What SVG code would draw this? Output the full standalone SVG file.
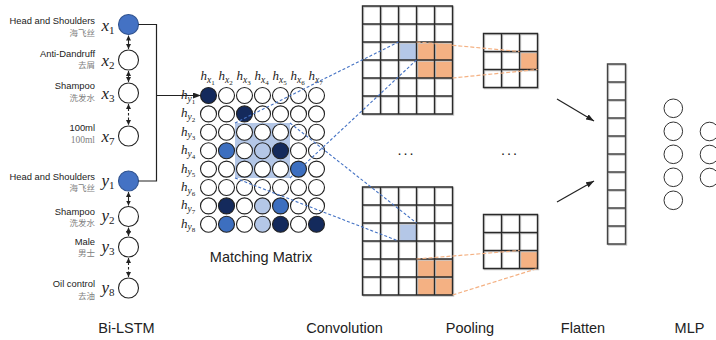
<svg xmlns="http://www.w3.org/2000/svg" xmlns:xlink="http://www.w3.org/1999/xlink" width="716" height="340" viewBox="0 0 716 340">
<style>
.en{font-family:"Liberation Sans",Arial,sans-serif;font-size:9.4px;fill:#222;text-anchor:end}
.zh{font-family:"Noto Sans CJK SC",sans-serif;font-size:8.5px;fill:#808080;text-anchor:end}
.zs{font-family:"Liberation Serif",serif;font-size:9.5px;fill:#808080;text-anchor:end}
.m{font-family:"Liberation Serif",serif;font-style:italic;font-size:17px;fill:#222}
.ms{font-style:normal;font-size:11px}
.mh{font-family:"Liberation Serif",serif;font-style:italic;font-size:13px;fill:#222}
.s1{font-size:9.5px}
.s2{font-size:7px;font-style:normal}
.lb{font-family:"Liberation Sans",Arial,sans-serif;font-size:14.5px;fill:#222;text-anchor:middle}
.nd{fill:#fff;stroke:#222;stroke-width:1.1}
.bl{fill:#4472c4;stroke:#2f528f;stroke-width:1.1}
.c{fill:#fff;stroke:#222;stroke-width:1.1}
.nv{fill:#142a5c}
.md{fill:#3d6fbf}
.lt{fill:#b4c7e7}
.gl{fill:none;stroke:#2a2a2a;stroke-width:1.4}
.gs{fill:none;stroke:#c8c8c8;stroke-width:1.4}
.or{fill:#f4b183}
.pb{fill:#b4c7e7}
.ln{fill:none;stroke:#222;stroke-width:1.2}
.ar{fill:none;stroke:#222;stroke-width:1.1}
.bd{fill:none;stroke:#4472c4;stroke-width:1.1;stroke-dasharray:3 2}
.od{fill:none;stroke:#f4b183;stroke-width:1.2;stroke-dasharray:4 2}
.mlp{fill:#fff;stroke:#333;stroke-width:1}
</style>
<defs>
<marker id="ah" viewBox="0 0 6 6" refX="6" refY="3" markerWidth="5" markerHeight="5" markerUnits="userSpaceOnUse" orient="auto-start-reverse"><path d="M0,0 L6,3 L0,6 z" fill="#222"/></marker>
<marker id="ab" viewBox="0 0 8 6" refX="8" refY="3" markerWidth="8" markerHeight="6" markerUnits="userSpaceOnUse" orient="auto"><path d="M0,0 L8,3 L0,6 z" fill="#222"/></marker>
<path id="g56" d="M0,0H90V108H0Z M18,0V108 M36,0V108 M54,0V108 M72,0V108 M0,18H90 M0,36H90 M0,54H90 M0,72H90 M0,90H90"/>
<path id="g33" d="M0,0H54V54H0Z M18,0V54 M36,0V54 M0,18H54 M0,36H54"/>
<path id="g110" d="M0,0H18V180H0Z M0,18H18 M0,36H18 M0,54H18 M0,72H18 M0,90H18 M0,108H18 M0,126H18 M0,144H18 M0,162H18"/>
</defs>

<g id="bilstm">
<g id="node-x1"><circle class="bl" cx="128.5" cy="24.5" r="10"/><text class="en" x="95" y="24">Head and Shoulders</text><text class="zh" x="95" y="35.5">海飞丝</text><text class="m" x="101.5" y="30.5">x<tspan class="ms" dy="3">1</tspan></text></g>
<g id="node-x2"><circle class="nd" cx="128.5" cy="60" r="10"/><text class="en" x="95" y="56.5">Anti-Dandruff</text><text class="zh" x="95" y="68">去屑</text><text class="m" x="101.5" y="65.5">x<tspan class="ms" dy="3">2</tspan></text></g>
<g id="node-x3"><circle class="nd" cx="128.5" cy="93" r="10"/><text class="en" x="95" y="88.5">Shampoo</text><text class="zh" x="95" y="100.5">洗发水</text><text class="m" x="101.5" y="98.5">x<tspan class="ms" dy="3">3</tspan></text></g>
<g id="node-x7"><circle class="nd" cx="128.5" cy="136" r="10"/><text class="en" x="95" y="130.5">100ml</text><text class="zs" x="95" y="142.5">100ml</text><text class="m" x="101.5" y="142">x<tspan class="ms" dy="3">7</tspan></text></g>
<g id="node-y1"><circle class="bl" cx="128.5" cy="181" r="10"/><text class="en" x="95" y="179.5">Head and Shoulders</text><text class="zh" x="95" y="191">海飞丝</text><text class="m" x="101.5" y="185.5">y<tspan class="ms" dy="3">1</tspan></text></g>
<g id="node-y2"><circle class="nd" cx="128.5" cy="216.5" r="10"/><text class="en" x="95" y="214.5">Shampoo</text><text class="zh" x="95" y="226">洗发水</text><text class="m" x="101.5" y="221">y<tspan class="ms" dy="3">2</tspan></text></g>
<g id="node-y3"><circle class="nd" cx="128.5" cy="247" r="10"/><text class="en" x="95" y="244.5">Male</text><text class="zh" x="95" y="256">男士</text><text class="m" x="101.5" y="251.5">y<tspan class="ms" dy="3">3</tspan></text></g>
<g id="node-y8"><circle class="nd" cx="128.5" cy="288" r="10"/><text class="en" x="95" y="287">Oil control</text><text class="zh" x="95" y="298.5">去油</text><text class="m" x="101.5" y="292.5">y<tspan class="ms" dy="3">8</tspan></text></g>
<text class="lb" x="126.5" y="332.5">Bi-LSTM</text>
</g>

<g id="matching-matrix">
<rect x="235" y="123" width="55" height="55" fill="#b4c7e7"/>
<g id="mm-headers">
<text class="mh" x="200.5" y="80">h<tspan class="s1" dy="2.5">x</tspan><tspan class="s2" dy="2">1</tspan></text>
<text class="mh" x="218.5" y="80">h<tspan class="s1" dy="2.5">x</tspan><tspan class="s2" dy="2">2</tspan></text>
<text class="mh" x="236.5" y="80">h<tspan class="s1" dy="2.5">x</tspan><tspan class="s2" dy="2">3</tspan></text>
<text class="mh" x="254.5" y="80">h<tspan class="s1" dy="2.5">x</tspan><tspan class="s2" dy="2">4</tspan></text>
<text class="mh" x="272.5" y="80">h<tspan class="s1" dy="2.5">x</tspan><tspan class="s2" dy="2">5</tspan></text>
<text class="mh" x="290.5" y="80">h<tspan class="s1" dy="2.5">x</tspan><tspan class="s2" dy="2">6</tspan></text>
<text class="mh" x="308.5" y="80">h<tspan class="s1" dy="2.5">x</tspan><tspan class="s2" dy="2">7</tspan></text>
<text class="mh" x="181" y="99">h<tspan class="s1" dy="2.5">y</tspan><tspan class="s2" dy="2">1</tspan></text>
<text class="mh" x="181" y="117.4">h<tspan class="s1" dy="2.5">y</tspan><tspan class="s2" dy="2">2</tspan></text>
<text class="mh" x="181" y="135.8">h<tspan class="s1" dy="2.5">y</tspan><tspan class="s2" dy="2">3</tspan></text>
<text class="mh" x="181" y="154.2">h<tspan class="s1" dy="2.5">y</tspan><tspan class="s2" dy="2">4</tspan></text>
<text class="mh" x="181" y="172.6">h<tspan class="s1" dy="2.5">y</tspan><tspan class="s2" dy="2">5</tspan></text>
<text class="mh" x="181" y="191">h<tspan class="s1" dy="2.5">y</tspan><tspan class="s2" dy="2">6</tspan></text>
<text class="mh" x="181" y="209.4">h<tspan class="s1" dy="2.5">y</tspan><tspan class="s2" dy="2">7</tspan></text>
<text class="mh" x="181" y="227.8">h<tspan class="s1" dy="2.5">y</tspan><tspan class="s2" dy="2">8</tspan></text>
</g>
<g id="mm-cells">
<circle class="c nv" cx="208.5" cy="95.5" r="8"/><circle class="c" cx="226.5" cy="95.5" r="8"/><circle class="c" cx="244.5" cy="95.5" r="8"/><circle class="c" cx="262.5" cy="95.5" r="8"/><circle class="c" cx="280.5" cy="95.5" r="8"/><circle class="c" cx="298.5" cy="95.5" r="8"/><circle class="c" cx="316.5" cy="95.5" r="8"/>
<circle class="c" cx="208.5" cy="113.9" r="8"/><circle class="c" cx="226.5" cy="113.9" r="8"/><circle class="c nv" cx="244.5" cy="113.9" r="8"/><circle class="c" cx="262.5" cy="113.9" r="8"/><circle class="c" cx="280.5" cy="113.9" r="8"/><circle class="c" cx="298.5" cy="113.9" r="8"/><circle class="c" cx="316.5" cy="113.9" r="8"/>
<circle class="c" cx="208.5" cy="132.3" r="8"/><circle class="c" cx="226.5" cy="132.3" r="8"/><circle class="c" cx="244.5" cy="132.3" r="8"/><circle class="c" cx="262.5" cy="132.3" r="8"/><circle class="c" cx="280.5" cy="132.3" r="8"/><circle class="c" cx="298.5" cy="132.3" r="8"/><circle class="c" cx="316.5" cy="132.3" r="8"/>
<circle class="c" cx="208.5" cy="150.7" r="8"/><circle class="c md" cx="226.5" cy="150.7" r="8"/><circle class="c" cx="244.5" cy="150.7" r="8"/><circle class="c lt" cx="262.5" cy="150.7" r="8"/><circle class="c nv" cx="280.5" cy="150.7" r="8"/><circle class="c" cx="298.5" cy="150.7" r="8"/><circle class="c" cx="316.5" cy="150.7" r="8"/>
<circle class="c" cx="208.5" cy="169.1" r="8"/><circle class="c" cx="226.5" cy="169.1" r="8"/><circle class="c" cx="244.5" cy="169.1" r="8"/><circle class="c" cx="262.5" cy="169.1" r="8"/><circle class="c" cx="280.5" cy="169.1" r="8"/><circle class="c md" cx="298.5" cy="169.1" r="8"/><circle class="c" cx="316.5" cy="169.1" r="8"/>
<circle class="c" cx="208.5" cy="187.5" r="8"/><circle class="c" cx="226.5" cy="187.5" r="8"/><circle class="c" cx="244.5" cy="187.5" r="8"/><circle class="c" cx="262.5" cy="187.5" r="8"/><circle class="c" cx="280.5" cy="187.5" r="8"/><circle class="c" cx="298.5" cy="187.5" r="8"/><circle class="c" cx="316.5" cy="187.5" r="8"/>
<circle class="c" cx="208.5" cy="205.9" r="8"/><circle class="c nv" cx="226.5" cy="205.9" r="8"/><circle class="c" cx="244.5" cy="205.9" r="8"/><circle class="c lt" cx="262.5" cy="205.9" r="8"/><circle class="c md" cx="280.5" cy="205.9" r="8"/><circle class="c" cx="298.5" cy="205.9" r="8"/><circle class="c" cx="316.5" cy="205.9" r="8"/>
<circle class="c" cx="208.5" cy="224.3" r="8"/><circle class="c md" cx="226.5" cy="224.3" r="8"/><circle class="c" cx="244.5" cy="224.3" r="8"/><circle class="c lt" cx="262.5" cy="224.3" r="8"/><circle class="c nv" cx="280.5" cy="224.3" r="8"/><circle class="c" cx="298.5" cy="224.3" r="8"/><circle class="c nv" cx="316.5" cy="224.3" r="8"/>
</g>
<text class="lb" x="261" y="262">Matching Matrix</text>
</g>

<g id="convolution">
<g id="conv-top">
<rect class="pb" x="398.5" y="42" width="18" height="18"/>
<rect class="or" x="416.5" y="42" width="36" height="36"/>
<use xlink:href="#g56" href="#g56" class="gs" x="363.5" y="7"/>
<use xlink:href="#g56" href="#g56" class="gl" x="362.5" y="6"/>
</g>
<g id="conv-bottom">
<rect class="pb" x="398.5" y="223" width="18" height="18"/>
<rect class="or" x="416.5" y="259" width="36" height="36"/>
<use xlink:href="#g56" href="#g56" class="gs" x="363.5" y="188"/>
<use xlink:href="#g56" href="#g56" class="gl" x="362.5" y="187"/>
</g>
<text class="lb" x="406.5" y="155" style="letter-spacing:2px">...</text>
<text class="lb" x="344.5" y="332.5">Convolution</text>
</g>

<g id="pooling">
<g id="pool-top">
<rect class="or" x="519.5" y="51.5" width="18" height="18"/>
<use xlink:href="#g33" href="#g33" class="gs" x="484.5" y="34.5"/>
<use xlink:href="#g33" href="#g33" class="gl" x="483.5" y="33.5"/>
</g>
<g id="pool-bottom">
<rect class="or" x="519.5" y="250.5" width="18" height="18"/>
<use xlink:href="#g33" href="#g33" class="gs" x="484.5" y="215.5"/>
<use xlink:href="#g33" href="#g33" class="gl" x="483.5" y="214.5"/>
</g>
<text class="lb" x="510" y="155" style="letter-spacing:2px">...</text>
<text class="lb" x="470" y="332.5">Pooling</text>
</g>

<g id="flatten">
<use xlink:href="#g110" href="#g110" class="gs" x="608.5" y="65"/>
<use xlink:href="#g110" href="#g110" class="gl" x="607.5" y="64" style="stroke:#444"/>
<text class="lb" x="583" y="332.5">Flatten</text>
</g>

<g id="mlp">
<circle class="mlp" cx="673.3" cy="108.3" r="9.3"/>
<circle class="mlp" cx="673.3" cy="131.3" r="9.3"/>
<circle class="mlp" cx="673.3" cy="154.3" r="9.3"/>
<circle class="mlp" cx="673.3" cy="177.3" r="9.3"/>
<circle class="mlp" cx="673.3" cy="200.3" r="9.3"/>
<circle class="mlp" cx="709.5" cy="131.5" r="9.3"/>
<circle class="mlp" cx="709.5" cy="154.5" r="9.3"/>
<circle class="mlp" cx="709.5" cy="177.5" r="9.3"/>
<text class="lb" x="689.5" y="332.5">MLP</text>
</g>

<g id="connectors">
<line class="ar" x1="128.5" y1="35.5" x2="128.5" y2="49" marker-start="url(#ah)" marker-end="url(#ah)"/>
<line class="ar" x1="128.5" y1="71" x2="128.5" y2="82" marker-start="url(#ah)" marker-end="url(#ah)"/>
<line class="ar" x1="128.5" y1="104" x2="128.5" y2="125" stroke-dasharray="2.5 2" marker-start="url(#ah)" marker-end="url(#ah)"/>
<line class="ar" x1="128.5" y1="192" x2="128.5" y2="205.5" marker-start="url(#ah)" marker-end="url(#ah)"/>
<line class="ar" x1="128.5" y1="227.5" x2="128.5" y2="236" marker-start="url(#ah)" marker-end="url(#ah)"/>
<line class="ar" x1="128.5" y1="258" x2="128.5" y2="277" stroke-dasharray="2.5 2" marker-start="url(#ah)" marker-end="url(#ah)"/>
<path class="ln" d="M138.5,24.5 H156.5 V181 H138.5"/>
<line class="ln" x1="156.5" y1="95.5" x2="201" y2="95.5" marker-end="url(#ab)"/>
<line class="bd" x1="235" y1="123" x2="398.5" y2="42"/>
<line class="bd" x1="290" y1="178" x2="416.5" y2="60"/>
<line class="bd" x1="290" y1="123" x2="416.5" y2="223"/>
<line class="bd" x1="235" y1="178" x2="398.5" y2="241"/>
<line class="od" x1="416.5" y1="42" x2="519.5" y2="51.5"/>
<line class="od" x1="452.5" y1="78" x2="537.5" y2="69.5"/>
<line class="od" x1="416.5" y1="259" x2="519.5" y2="250.5"/>
<line class="od" x1="452.5" y1="295" x2="537.5" y2="268.5"/>
<line class="ln" x1="557" y1="99" x2="594" y2="121" marker-end="url(#ab)"/>
<line class="ln" x1="557" y1="202" x2="594" y2="181" marker-end="url(#ab)"/>
</g>
</svg>
